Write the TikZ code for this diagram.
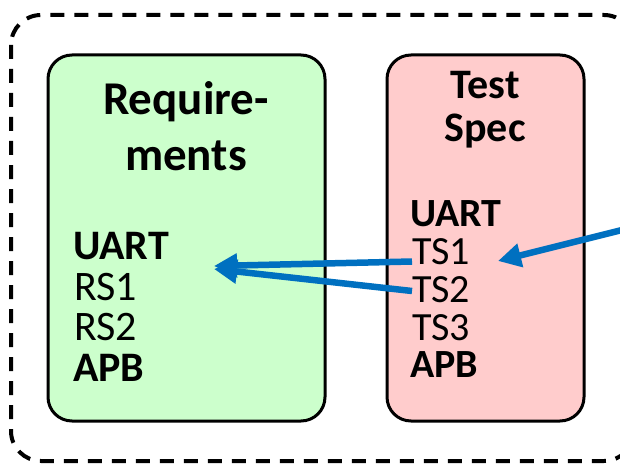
\documentclass[tikz,border=0pt]{standalone}
\usepackage{fontspec}
\setmainfont{Carlito}
\usetikzlibrary{arrows.meta}
\definecolor{reqgreen}{HTML}{CCFFCC}
\definecolor{tspink}{HTML}{FFCCCC}
\definecolor{arrblue}{HTML}{0070C0}
\tikzset{
  frame/.style={draw=black, line width=4pt, dash pattern=on 14pt off 10pt, rounded corners=30pt},
  docbox/.style={draw=black, line width=3pt, rounded corners=24pt},
  titletext/.style={inner sep=0pt, anchor=base, font=\bfseries\fontsize{47}{55}\selectfont},
  titletextb/.style={inner sep=0pt, anchor=base, font=\bfseries\fontsize{42}{44}\selectfont},
  greenline/.style={inner sep=0pt, anchor=base west, font=\fontsize{42}{41}\selectfont},
  greenbold/.style={inner sep=0pt, anchor=base west, font=\bfseries\fontsize{42}{41}\selectfont},
  pinkline/.style={inner sep=0pt, anchor=base west, font=\fontsize{40}{38}\selectfont},
  pinkbold/.style={inner sep=0pt, anchor=base west, font=\bfseries\fontsize{40}{38}\selectfont},
  arr/.style={draw=arrblue, line width=6.5pt, -{Triangle[length=23pt,width=23pt]}}
}
\begin{document}
\begin{tikzpicture}[x=1pt, y=-1pt]
\useasboundingbox (0,0) rectangle (620,465);
\clip (0,0) rectangle (620,465);
% outer dashed frame
\draw[frame] (11,15) rectangle (634,461);
% boxes
\path[docbox, fill=reqgreen] (48,55) rectangle (325,421);
\path[docbox, fill=tspink] (387,55) rectangle (584,421);
% titles
\node[titletext] (req1) at (186,115) {Require-};
\node[titletext] (req2) at (186,170) {ments};
\node[titletextb] (ts1t) at (485,98.5) {Test};
\node[titletextb] (ts2t) at (485,142) {Spec};
% green lines
\node[greenbold] (gU) at (73,259) {UART};
\node[greenline] (RS1) at (74,300.5) {RS1};
\node[greenline] (RS2) at (74,340.5) {RS2};
\node[greenbold] (gA) at (73,381.5) {APB};
% pink lines
\node[pinkbold] (pU) at (410,226.5) {UART};
\node[pinkline] (TS1) at (412,264) {TS1};
\node[pinkline] (TS2) at (412,302.5) {TS2};
\node[pinkline] (TS3) at (412,340) {TS3};
\node[pinkbold] (pA) at (410,377) {APB};
% arrow targets
\coordinate (tipA) at (214,266);
\coordinate (tipB) at (214,269);
\coordinate (tipC) at (498,261);
\coordinate (extC) at (642,225);
% arrows
\draw[arr] ([yshift=2.5pt]TS1.base west) -- (tipA);
\draw[arr] ([yshift=11.5pt]TS2.base west) -- (tipB);
\draw[arr] (extC) -- (tipC);
\end{tikzpicture}
\end{document}
